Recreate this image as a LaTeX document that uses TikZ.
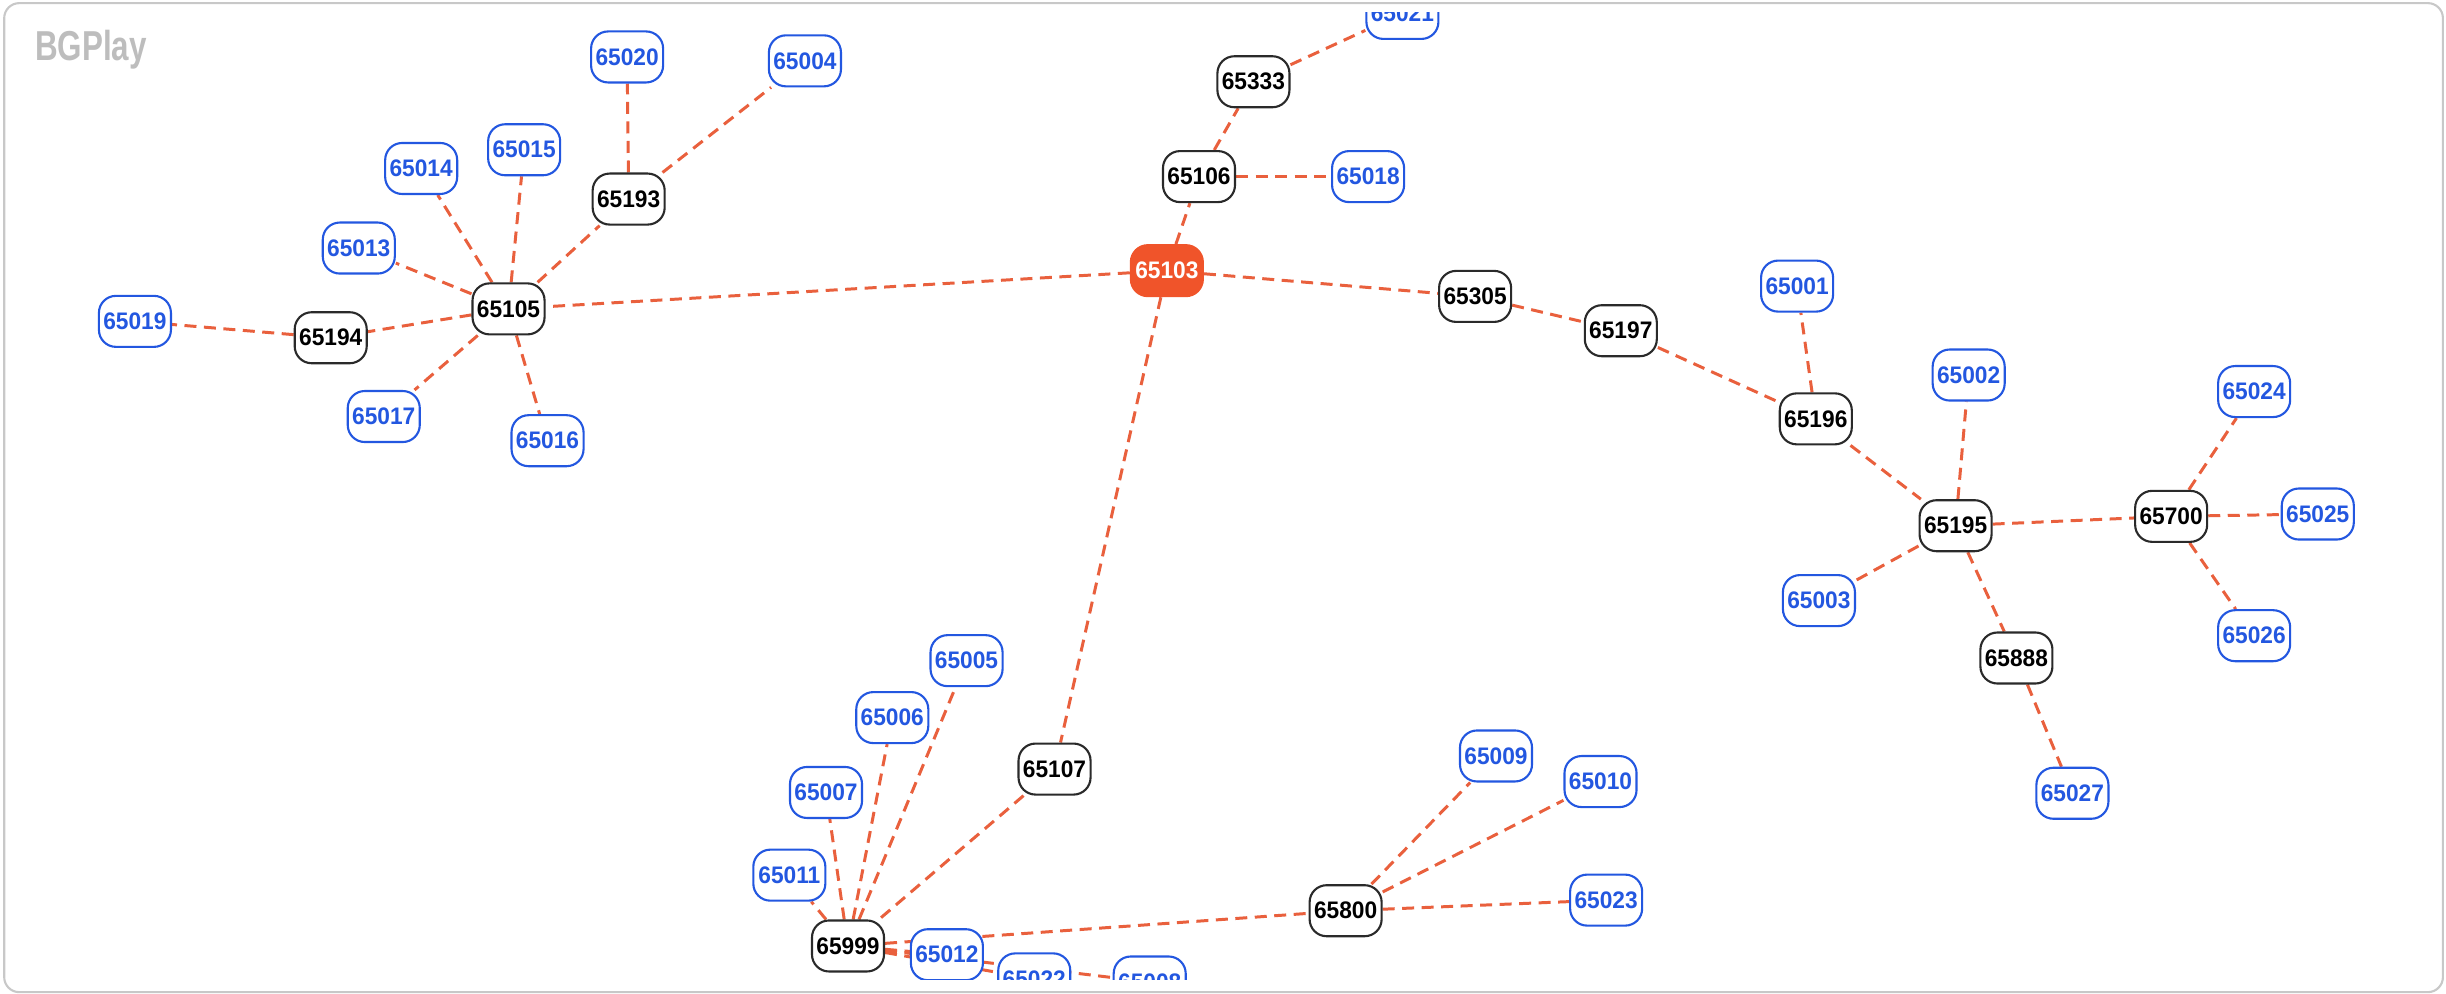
\documentclass[tikz,border=0pt]{standalone}
\usepackage{fontspec}
\setmainfont{Liberation Sans}
\newfontfamily\nodefont[FakeStretch=0.95]{Liberation Sans}
\newfontfamily\logofont[FakeStretch=0.75]{Liberation Sans}
\usetikzlibrary{backgrounds}
\definecolor{edgeorange}{HTML}{E9603D}
\definecolor{originfill}{HTML}{F0542A}
\definecolor{peerblue}{HTML}{2357E0}
\definecolor{asgrey}{HTML}{2A2A2A}
\definecolor{framegrey}{HTML}{C8C8C8}
\definecolor{logogrey}{HTML}{BDBDBD}
\tikzset{
  box/.style={rounded corners=0.17cm, minimum width=0.72cm, minimum height=0.51cm,
    inner sep=0pt, line width=0.6pt, fill=white,
    font=\nodefont\bfseries\fontsize{6.8pt}{8pt}\selectfont},
  asbox/.style={box, draw=asgrey, text=black},
  peerbox/.style={box, draw=peerblue, text=peerblue},
  originbox/.style={box, draw=originfill, fill=originfill, text=white},
  link/.style={draw=edgeorange, line width=0.85pt, dash pattern=on 0.12cm off 0.075cm},
}
\begin{document}
\begin{tikzpicture}[x=0.0156cm,y=-0.0156cm]
\useasboundingbox (0,0) rectangle (1568,637);
\draw[framegrey, line width=0.6pt, rounded corners=0.15cm] (2.7,2) rectangle (1566,636);
\node[anchor=base west, inner sep=0pt, text=logogrey,
  font=\logofont\bfseries\fontsize{11.9pt}{13pt}\selectfont] (logo) at (22,38.5) {BGPlay};
\begin{scope}
\clip (3,8.3) rectangle (1565,628);
% central
\node[originbox] (n65103) at (748,173.5) {65103};
% left cluster
\node[asbox] (n65105) at (326,198) {65105};
\node[asbox] (n65193) at (403,127.6) {65193};
\node[asbox] (n65194) at (212,216.5) {65194};
\node[peerbox] (n65020) at (402,36.5) {65020};
\node[peerbox] (n65004) at (516,39) {65004};
\node[peerbox] (n65015) at (336,96) {65015};
\node[peerbox] (n65014) at (270,108) {65014};
\node[peerbox] (n65013) at (230,159) {65013};
\node[peerbox] (n65019) at (86.5,206) {65019};
\node[peerbox] (n65017) at (246,267) {65017};
\node[peerbox] (n65016) at (351,282.5) {65016};
% top
\node[asbox] (n65106) at (768.6,113.2) {65106};
\node[asbox] (n65333) at (803.5,52.4) {65333};
\node[peerbox] (n65021) at (899,8.6) {65021};
\node[peerbox] (n65018) at (877,113.2) {65018};
% right
\node[asbox] (n65305) at (945.6,190) {65305};
\node[asbox] (n65197) at (1039,212) {65197};
\node[asbox] (n65196) at (1164,268.5) {65196};
\node[asbox] (n65195) at (1253.6,337) {65195};
\node[asbox] (n65700) at (1391.8,331) {65700};
\node[asbox] (n65888) at (1292.6,421.8) {65888};
\node[peerbox] (n65001) at (1152,183.4) {65001};
\node[peerbox] (n65002) at (1262,240.4) {65002};
\node[peerbox] (n65003) at (1166,385) {65003};
\node[peerbox] (n65024) at (1445,251) {65024};
\node[peerbox] (n65025) at (1485.8,329.5) {65025};
\node[peerbox] (n65026) at (1445,407.5) {65026};
\node[peerbox] (n65027) at (1328.5,508.5) {65027};
% bottom
\node[asbox] (n65107) at (676,493) {65107};
\node[asbox] (n65999) at (543.6,606.4) {65999};
\node[asbox] (n65800) at (862.6,583.8) {65800};
\node[peerbox] (n65005) at (619.6,423.5) {65005};
\node[peerbox] (n65006) at (572,460) {65006};
\node[peerbox] (n65007) at (529.5,508) {65007};
\node[peerbox] (n65011) at (506,561) {65011};
\node[peerbox] (n65008) at (737,629.5) {65008};
\node[peerbox] (n65022) at (663,627.5) {65022};
\node[peerbox] (n65012) at (607,612) {65012};
\node[peerbox] (n65009) at (959,484.6) {65009};
\node[peerbox] (n65010) at (1026,501) {65010};
\node[peerbox] (n65023) at (1029.6,577) {65023};
\end{scope}
\begin{pgfonlayer}{background}
\path[link] (n65103) -- (n65105);
\path[link] (n65103) -- (n65106);
\path[link] (n65103) -- (n65305);
\path[link] (n65103) -- (n65107);
\path[link] (n65105) -- (n65193);
\path[link] (n65105) -- (n65194);
\path[link] (n65105) -- (n65015);
\path[link] (n65105) -- (n65014);
\path[link] (n65105) -- (n65013);
\path[link] (n65105) -- (n65017);
\path[link] (n65105) -- (n65016);
\path[link] (n65193) -- (n65020);
\path[link] (n65193) -- (n65004);
\path[link] (n65194) -- (n65019);
\path[link] (n65106) -- (n65333);
\path[link] (n65106) -- (n65018);
\path[link] (n65333) -- (n65021);
\path[link] (n65305) -- (n65197);
\path[link] (n65197) -- (n65196);
\path[link] (n65196) -- (n65001);
\path[link] (n65196) -- (n65195);
\path[link] (n65195) -- (n65002);
\path[link] (n65195) -- (n65003);
\path[link] (n65195) -- (n65700);
\path[link] (n65195) -- (n65888);
\path[link] (n65888) -- (n65027);
\path[link] (n65700) -- (n65024);
\path[link] (n65700) -- (n65025);
\path[link] (n65700) -- (n65026);
\path[link] (n65107) -- (n65999);
\path[link] (n65999) -- (n65005);
\path[link] (n65999) -- (n65006);
\path[link] (n65999) -- (n65007);
\path[link] (n65999) -- (n65011);
\path[link] (n65999) -- (n65800);
\path[link] (n65999) -- (n65012);
\path[link] (n65999) -- (n65022);
\path[link] (n65999) -- (n65008);
\path[link] (n65800) -- (n65009);
\path[link] (n65800) -- (n65010);
\path[link] (n65800) -- (n65023);
\end{pgfonlayer}
\end{tikzpicture}
\end{document}
